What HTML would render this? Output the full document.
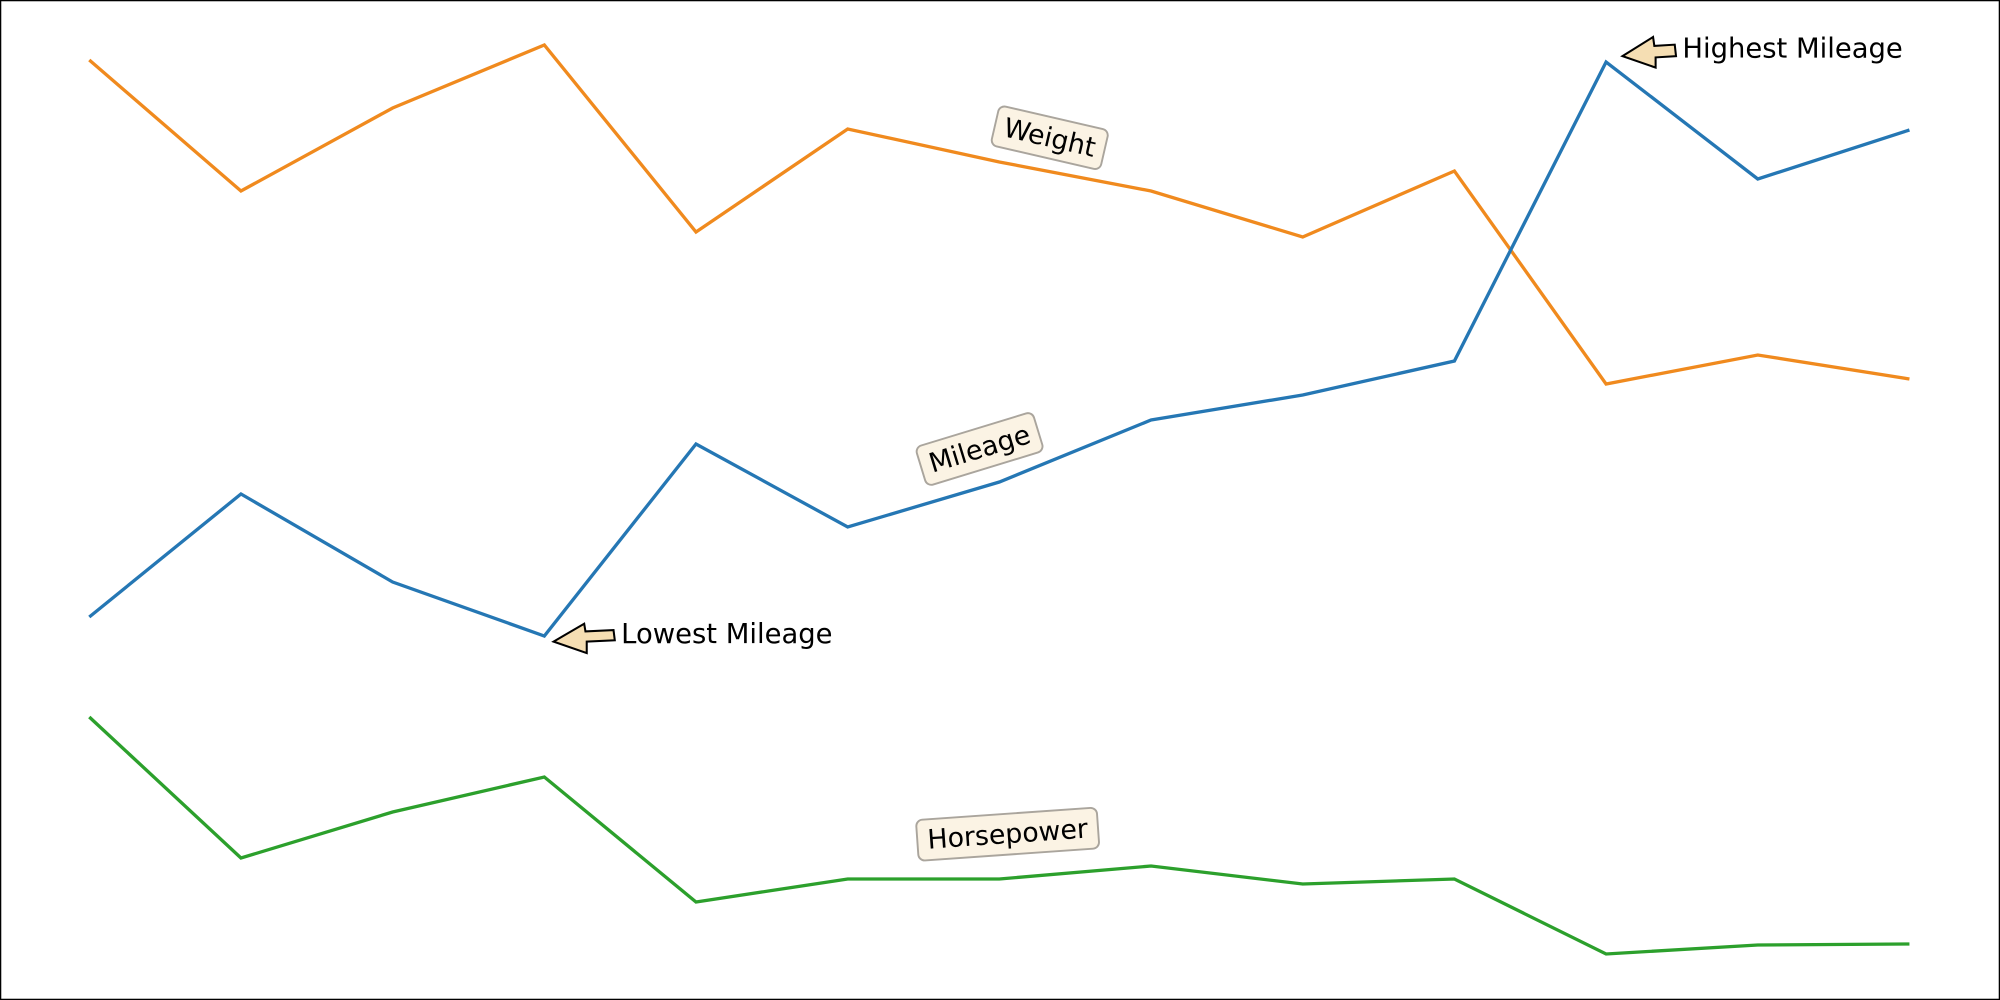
<!DOCTYPE html>
<html><head><meta charset="utf-8"><style>
html,body{margin:0;padding:0;background:#fff}
svg{display:block}
text{font-family:"DejaVu Sans","Liberation Sans",sans-serif;fill:#000}
</style></head><body>
<svg width="2000" height="1000" viewBox="0 0 1568 784" xmlns="http://www.w3.org/2000/svg">
<rect x="0.5" y="0.5" width="1567" height="783" fill="#fff" stroke="#000" stroke-width="1"/>
<g id="plot"></g>
<g>
<path d="M434,503 L458,489 L459,495 L481,494 L482,502 L460,503 L460,512 Z" fill="#f5deb3" stroke="#000" stroke-width="1.6" stroke-linejoin="miter"/>
<text x="487" y="504" font-size="21.5">Lowest Mileage</text>
</g>
<g>
<path d="M1272,44 L1296,29 L1297,36 L1313,35 L1314,44 L1298,45 L1298,53 Z" fill="#f5deb3" stroke="#000" stroke-width="1.6"/>
<text x="1319" y="45" font-size="21.5">Highest Mileage</text>
</g>
</svg>
<script>
const categories = ["1","2","3","4","5","6","7","8","9","10","11","12","13"];
const mileage = [38.3,50.6,41.8,36.4,55.6,47.3,51.8,58.0,60.5,63.9,93.8,82.1,87.0];
const weight = [94.0,80.9,89.2,95.5,76.8,87.1,83.8,80.9,76.3,82.9,61.6,64.5,62.1];
const horsepower = [28.3,14.2,18.8,22.3,9.8,12.1,12.1,13.4,11.6,12.1,4.6,5.5,5.6];
const NS="http://www.w3.org/2000/svg";
const g=document.getElementById('plot');
const xScale=i=>70+i*(1497-70)/(categories.length-1);
const yScale=v=>784-v*7.84;
function drawLine(vals,color,name){
  const p=document.createElementNS(NS,'polyline');
  
  
  p.setAttribute('points',vals.map((v,i)=>xScale(i)+','+yScale(v)).join(' '));
  p.setAttribute('fill','none');p.setAttribute('stroke',color);p.setAttribute('stroke-width','2.6');
  g.appendChild(p);
}
drawLine(weight,'#f08a1e','weight-line');
drawLine(mileage,'#2577b4','mileage-line');
drawLine(horsepower,'#2ca02c','horsepower-line');
function label(cx,cy,ang,w,text,name){
  const grp=document.createElementNS(NS,'g');
  
  
  grp.setAttribute('transform',`translate(${cx},${cy}) rotate(${ang})`);
  const r=document.createElementNS(NS,'rect');
  r.setAttribute('x',-w/2);r.setAttribute('y',-16);r.setAttribute('width',w);r.setAttribute('height',32);
  r.setAttribute('rx',5);r.setAttribute('fill','#fbf3e4');r.setAttribute('stroke','#aaa59d');r.setAttribute('stroke-width','1.5');
  const t=document.createElementNS(NS,'text');
  t.setAttribute('x',0);t.setAttribute('y',7);t.setAttribute('text-anchor','middle');t.setAttribute('font-size','21');
  t.textContent=text;
  grp.appendChild(r);grp.appendChild(t);g.appendChild(grp);
}
label(823,108,13,88,'Weight','weight-label');
label(768,352,-17,96,'Mileage','mileage-label');
label(790,654,-4,142,'Horsepower','horsepower-label');
</script>
</body></html>
